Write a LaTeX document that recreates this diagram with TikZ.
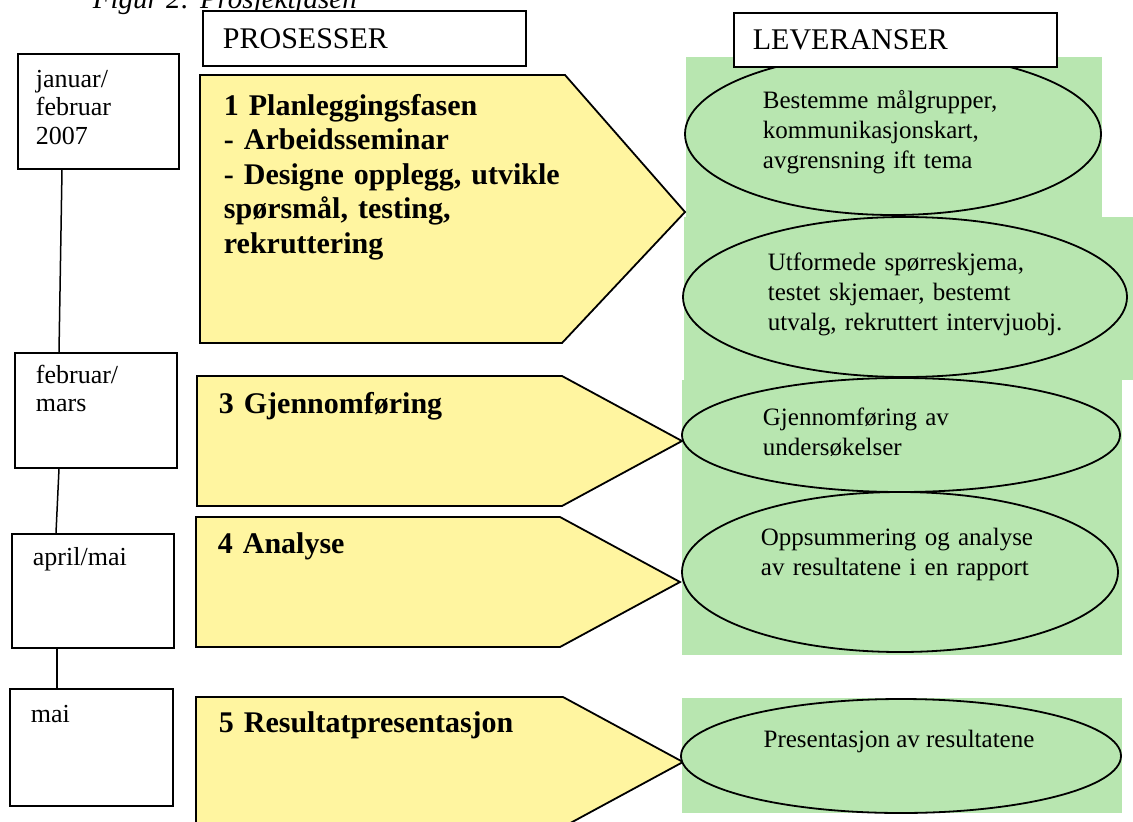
\documentclass[tikz,border=0pt]{standalone}
\usepackage{fontspec}
\setmainfont{Liberation Serif}
\usetikzlibrary{shapes.geometric}

\definecolor{fasegul}{RGB}{255,245,160}
\definecolor{levgronn}{RGB}{184,230,176}

\tikzset{every picture/.style={line width=1.8pt}}
\tikzset{
    datoboks/.style={draw, anchor=north west, inner sep=0pt},
    datotekst/.style={anchor=base west, inner sep=0pt, text width=150pt, align=left, font=\fontsize{26}{28.5}\selectfont},
    overskrift/.style={draw, fill=white, anchor=north west, inner xsep=20pt, inner ysep=0pt, text width=283pt, align=left, minimum height=55pt, font=\fontsize{30}{36}\selectfont},
    fase/.style={draw, fill=fasegul, line join=miter},
    fasetekst/.style={anchor=base west, inner sep=0pt, text width=440pt, align=left, font=\bfseries\fontsize{30}{34.5}\selectfont},
    leveranse/.style={draw, fill=levgronn, ellipse, inner sep=0pt},
    levtekst/.style={anchor=base west, inner sep=0pt, text width=320pt, align=left, font=\fontsize{25}{30}\selectfont}
}

\begin{document}
\begin{tikzpicture}[x=1pt, y=-1pt]
\useasboundingbox (0,0) rectangle (1133,822);

\node[anchor=base west, inner sep=0pt, font=\itshape\fontsize{29}{34}\selectfont] (tittel) at (92,8) {Figur 2: Prosjektfasen};

\fill[levgronn] (686,57) rectangle (1102,217);
    \fill[levgronn] (684,217) rectangle (1133,380);
    \fill[levgronn] (682,380) rectangle (1122,655);
    \fill[levgronn] (682,698) rectangle (1122,813);

\node[datoboks, minimum width=161pt, minimum height=115pt] (jan) at (17,53) {};
    \node[datoboks, minimum width=162pt, minimum height=115pt] (febmar) at (14,352) {};
    \node[datoboks, minimum width=162pt, minimum height=114pt] (aprmai) at (11,533) {};
    \node[datoboks, minimum width=163pt, minimum height=117pt] (mai) at (9,688) {};

\node[datotekst] (jantekst) at (35,87) {januar/\\februar\\2007};
    \node[datotekst] (febmartekst) at (35,383) {februar/\\mars};
    \node[datotekst] (aprmaitekst) at (32,565) {april/mai};
    \node[datotekst] (maitekst) at (30,722) {mai};

\draw[line width=1.5pt] ([xshift=45pt]jan.south west) -- ([xshift=45pt]febmar.north west);
    \draw[line width=1.5pt] ([xshift=45pt]febmar.south west) -- ([xshift=45pt]aprmai.north west);
    \draw[line width=1.5pt] ([xshift=46pt]aprmai.south west) -- ([xshift=48pt]mai.north west);

\draw[fase] (200,75) -- (565,75) -- (685,212) -- (562,343) -- (200,343) -- cycle;
    \draw[fase] (197,376) -- (562,376) -- (682,441) -- (562,506) -- (197,506) -- cycle;
    \draw[fase] (196,517) -- (560,517) -- (680,582) -- (560,647) -- (196,647) -- cycle;
    \draw[fase] (196,697) -- (563,697) -- (683,762) -- (563,827) -- (196,827) -- cycle;

\node[fasetekst] (fase1) at (223,115) {1 Planleggingsfasen\\- Arbeidsseminar\\- Designe opplegg, utvikle\\spørsmål, testing,\\rekruttering};
    \node[fasetekst] (fase3) at (218,413) {3 Gjennomføring};
    \node[fasetekst] (fase4) at (217,553) {4 Analyse};
    \node[fasetekst] (fase5) at (218,732) {5 Resultatpresentasjon};

\node[leveranse, minimum width=416pt, minimum height=162pt] (lev1) at (893,134) {};
    \node[leveranse, minimum width=444pt, minimum height=160pt] (lev2) at (905,297) {};
    \node[leveranse, minimum width=438pt, minimum height=114pt] (lev3) at (901,435) {};
    \node[leveranse, minimum width=436pt, minimum height=160pt] (lev4) at (900,572) {};
    \node[leveranse, minimum width=440pt, minimum height=114pt] (lev5) at (901,756) {};

\node[levtekst] (lev1tekst) at (762,108) {Bestemme målgrupper,\\kommunikasjonskart,\\avgrensning ift tema};
    \node[levtekst] (lev2tekst) at (767,270) {Utformede spørreskjema,\\testet skjemaer, bestemt\\utvalg, rekruttert intervjuobj.};
    \node[levtekst] (lev3tekst) at (762,425) {Gjennomføring av\\undersøkelser};
    \node[levtekst] (lev4tekst) at (760,545) {Oppsummering og analyse\\av resultatene i en rapport};
    \node[anchor=base, inner sep=0pt, font=\fontsize{25}{30}\selectfont] (lev5tekst) at (899,747) {Presentasjon av resultatene};

\node[overskrift] (prosesser) at (202,10) {PROSESSER};
    \node[overskrift, minimum height=54pt, inner xsep=19pt, text width=285pt] (leveranser) at (733,12) {LEVERANSER};

\end{tikzpicture}
\end{document}
